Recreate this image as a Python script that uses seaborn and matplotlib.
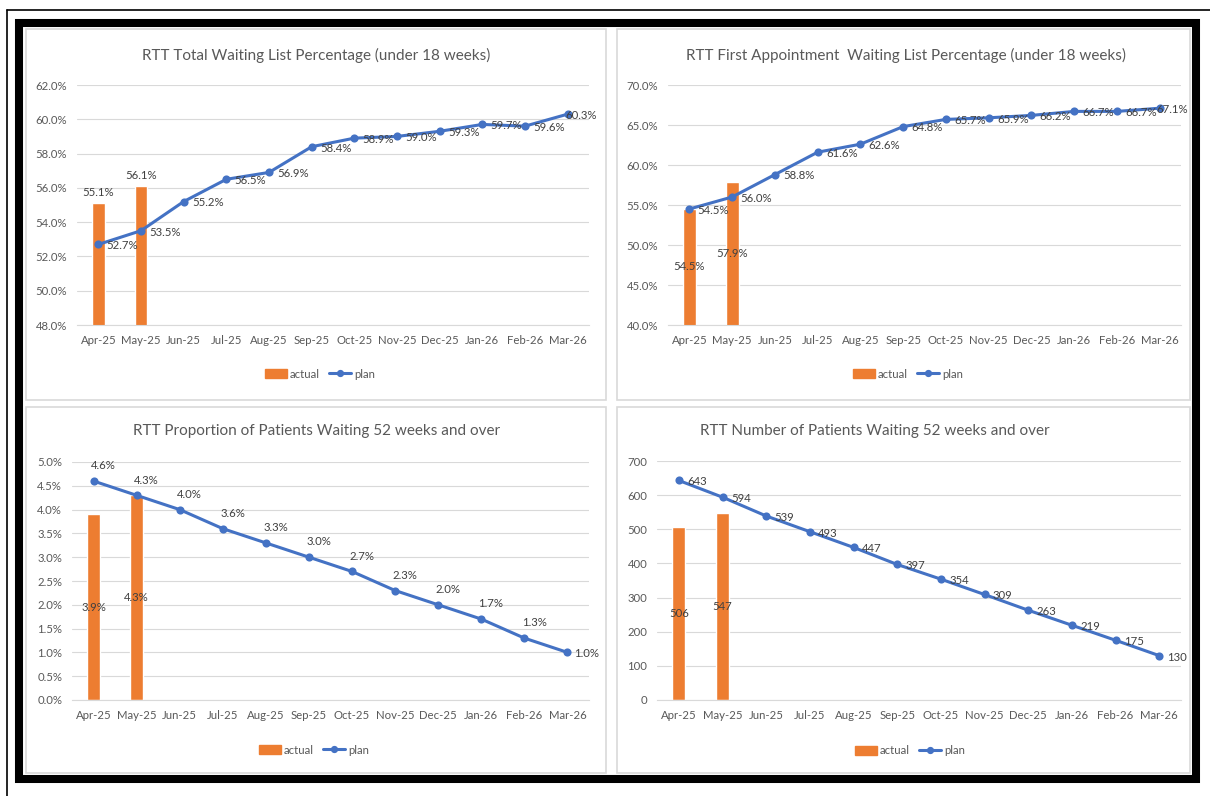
import numpy as np
import matplotlib
matplotlib.use('Agg')
import matplotlib.pyplot as plt
import seaborn as sns
from matplotlib.patches import Rectangle, Patch
from matplotlib.lines import Line2D

# data
months = ['Apr-25', 'May-25', 'Jun-25', 'Jul-25', 'Aug-25', 'Sep-25',
          'Oct-25', 'Nov-25', 'Dec-25', 'Jan-26', 'Feb-26', 'Mar-26']
actual_months = ['Apr-25', 'May-25']

total_actual = [55.1, 56.1]
total_plan = [52.7, 53.5, 55.2, 56.5, 56.9, 58.4, 58.9, 59.0, 59.3, 59.7, 59.6, 60.3]

first_actual = [54.5, 57.9]
first_plan = [54.5, 56.0, 58.8, 61.6, 62.6, 64.8, 65.7, 65.9, 66.2, 66.7, 66.7, 67.1]

prop52_actual = [3.9, 4.3]
prop52_plan = [4.6, 4.3, 4.0, 3.6, 3.3, 3.0, 2.7, 2.3, 2.0, 1.7, 1.3, 1.0]

num52_actual = [506, 547]
num52_plan = [643, 594, 539, 493, 447, 397, 354, 309, 263, 219, 175, 130]

ORANGE = '#ED7D31'
BLUE = '#4472C4'
GRID = '#d9d9d9'
TXT = '#595959'
LBL = '#404040'
FS = 8.2

sns.set_style('white')
plt.rcParams['font.family'] = ['Lato', 'DejaVu Sans']

W, H = 1210, 796
fig = plt.figure(figsize=(W / 100, H / 100), dpi=100)


def box(x0, y0, x1, y1):
    # pixel box (top-down) -> figure fraction rect
    return [x0 / W, 1 - y1 / H, (x1 - x0) / W, (y1 - y0) / H]


def panel(rect, title, tx, ty, lx, ly, actual, plan, ylim, ystep, fmt,
          actual_pos, plan_pos, last_dx):
    ax = fig.add_axes(box(*rect))
    sns.barplot(x=actual_months, y=actual, order=months, color=ORANGE,
                saturation=1, width=0.3, ax=ax)
    sns.pointplot(x=months, y=plan, order=months, color=BLUE, marker='o',
                  markersize=4.2, linewidth=2.2, errorbar=None, ax=ax)
    ax.set_ylim(*ylim)
    ax.set_xlim(-0.5, len(months) - 0.5)
    ax.set_yticks(np.arange(ylim[0], ylim[1] + ystep / 2, ystep))
    ax.set_yticklabels([fmt(v) for v in ax.get_yticks()])
    ax.set_xticks(np.arange(-0.5, len(months), 1), minor=True)
    ax.grid(axis='y', color=GRID, lw=0.8)
    ax.set_axisbelow(True)
    for s in ['top', 'right', 'left']:
        ax.spines[s].set_visible(False)
    ax.spines['bottom'].set_color(GRID)
    ax.tick_params(axis='both', which='major', length=0, labelsize=FS,
                   labelcolor=TXT, pad=7)
    ax.tick_params(axis='x', which='minor', length=4, color=GRID)
    ax.set_xlabel('')
    ax.set_ylabel('')

    for i, v in enumerate(actual):
        if actual_pos == 'above':
            ax.annotate(fmt(v), (i, v), xytext=(0, 4), textcoords='offset points',
                        ha='center', va='bottom', fontsize=FS, color=LBL)
        else:
            ax.annotate(fmt(v), (i, (ylim[0] + v) / 2), ha='center', va='center',
                        fontsize=FS, color=LBL)
    last = len(plan) - 1
    for i, v in enumerate(plan):
        if plan_pos == 'above' and i < last:
            ax.annotate(fmt(v), (i, v), xytext=(7, 11), textcoords='offset points',
                        ha='center', va='center', fontsize=FS, color=LBL)
        else:
            dx = last_dx if i == last else 6
            ax.annotate(fmt(v), (i, v), xytext=(dx, -1), textcoords='offset points',
                        ha='left', va='center', fontsize=FS, color=LBL,
                        annotation_clip=False)

    fig.text(tx / W, 1 - ty / H, title, ha='center', va='center',
             fontsize=11, color=TXT)
    handles = [Patch(color=ORANGE, label='actual'),
               Line2D([], [], color=BLUE, lw=2.2, marker='o', markersize=4.2,
                      label='plan')]
    fig.legend(handles=handles, loc='center', ncol=2, frameon=False,
               bbox_to_anchor=(lx / W, 1 - ly / H), fontsize=FS,
               labelcolor=TXT, handlelength=1.9, handleheight=0.8,
               columnspacing=0.8, handletextpad=0.3)
    return ax


def pct(v):
    return f'{v:.1f}%'


def num(v):
    return f'{v:.0f}'


panel((77, 85, 589, 325), 'RTT Total Waiting List Percentage (under 18 weeks)',
      316, 55, 320, 374, total_actual, total_plan, (48, 62), 2, pct,
      'above', 'right', -2)
panel((668, 85, 1181, 325),
      'RTT First Appointment  Waiting List Percentage (under 18 weeks)',
      906, 55, 908, 374, first_actual, first_plan, (40, 70), 5, pct,
      'center', 'right', -2)
panel((72, 462, 589, 700), 'RTT Proportion of Patients Waiting 52 weeks and over',
      317, 431, 314, 750, prop52_actual, prop52_plan, (0, 5), 0.5, pct,
      'center', 'above', 5)
panel((657, 461, 1181, 700), 'RTT Number of Patients Waiting 52 weeks and over',
      875, 431, 910, 751, num52_actual, num52_plan, (0, 700), 100, num,
      'center', 'right', 6)

# light grey panel borders
for x0, y0, x1, y1 in [(26, 29, 606, 400), (617, 29, 1190, 400),
                       (26, 407, 606, 773), (617, 407, 1190, 773)]:
    fig.patches.append(Rectangle((x0 / W, 1 - y1 / H), (x1 - x0) / W, (y1 - y0) / H,
                                 transform=fig.transFigure, fill=False,
                                 edgecolor=GRID, lw=1.2))

# thick black frame and thin outer lines
fig.patches.append(Rectangle((19 / W, 1 - 779 / H), (1196 - 19) / W, (779 - 23) / H,
                             transform=fig.transFigure, fill=False,
                             edgecolor='black', lw=5.8))
fig.add_artist(Line2D([7 / W, 7 / W], [0, 1 - 10 / H], color='black', lw=1.2,
                      transform=fig.transFigure))
fig.add_artist(Line2D([7 / W, 1], [1 - 10 / H, 1 - 10 / H], color='black', lw=1.2,
                      transform=fig.transFigure))

fig.savefig('out.png', dpi=100, facecolor='white')
